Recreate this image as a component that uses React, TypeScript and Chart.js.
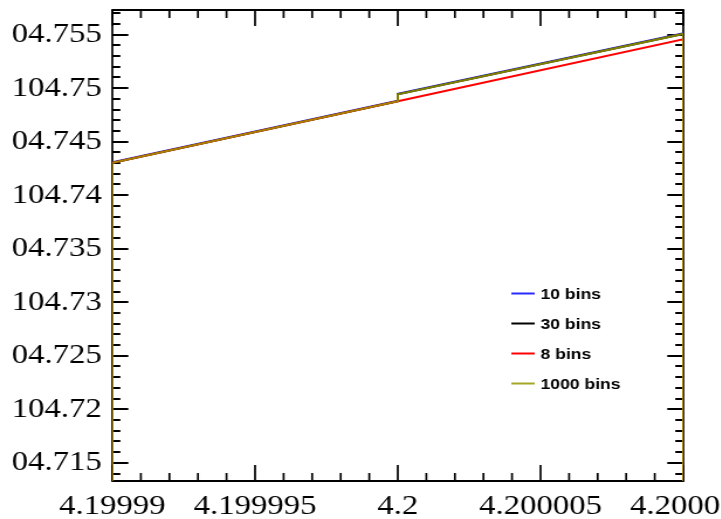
import React, { useEffect, useRef } from "react";
import { Chart, registerables } from "chart.js";

Chart.register(...registerables);

// Series names and colours (legend order)
const seriesLabels = ["10 bins", "30 bins", "8 bins", "1000 bins"];
const seriesColors = ["#2a2aff", "#000000", "#ff0000", "rgba(150,150,0,0.85)"];

// x positions of the step curves
const xWithStep = [4.19999, 4.19999, 4.2, 4.2, 4.20001, 4.20001];
const xNoStep = [4.19999, 4.19999, 4.2, 4.20001, 4.20001];

// y values of each curve
const bins10 = [104.7, 104.74308, 104.74883, 104.74948, 104.75512, 104.7];
const bins30 = [104.7, 104.74303, 104.74878, 104.74943, 104.75507, 104.7];
const bins8 = [104.7, 104.74303, 104.74878, 104.75457, 104.7];
const bins1000 = [104.7, 104.74303, 104.74878, 104.74943, 104.75507, 104.7];

// Axis ranges and tick marks
const xRange = [4.19999, 4.20001];
const yRange = [104.7133, 104.7573];
const xTickValues = [4.19999, 4.199995, 4.2, 4.200005, 4.20001];
const yTickValues = [104.715, 104.72, 104.725, 104.73, 104.735, 104.74, 104.745, 104.75, 104.755];
const xMinorStep = 0.000001;
const yMinorStep = 0.001;

// The canvas is drawn narrow and widened with a horizontal scale
const STRETCH = 1.17;

const toPoints = (xs: number[], ys: number[]) => ys.map((y, i) => ({ x: xs[i], y }));
const fmt = (v: number) => String(Number(Number(v).toFixed(7)));

const tickFont = { family: '"Liberation Serif", "Times New Roman", serif', size: 28 };

// Frame with inward major/minor ticks on all four sides
const framePlugin = {
  id: "frameTicks",
  beforeDatasetsDraw(chart: any) {
    const { ctx, chartArea: a, scales } = chart;
    const vw = 2 / STRETCH;
    ctx.save();
    ctx.strokeStyle = "#000";
    ctx.lineCap = "butt";

    // horizontal frame edges
    ctx.lineWidth = 2;
    ctx.beginPath();
    ctx.moveTo(a.left - vw / 2, a.top);
    ctx.lineTo(a.right + vw / 2, a.top);
    ctx.moveTo(a.left - vw / 2, a.bottom);
    ctx.lineTo(a.right + vw / 2, a.bottom);
    ctx.stroke();

    // vertical frame edges
    ctx.lineWidth = vw;
    ctx.beginPath();
    ctx.moveTo(a.left, a.top);
    ctx.lineTo(a.left, a.bottom);
    ctx.moveTo(a.right, a.top);
    ctx.lineTo(a.right, a.bottom);
    ctx.stroke();

    // x ticks (bottom and top)
    const xs = scales.x;
    const k0 = Math.ceil(xRange[0] / xMinorStep - 1e-6);
    const k1 = Math.floor(xRange[1] / xMinorStep + 1e-6);
    ctx.lineWidth = vw;
    for (let k = k0; k <= k1; k++) {
      const len = k % 5 === 0 ? 16 : 8;
      const px = xs.getPixelForValue(k * xMinorStep);
      ctx.beginPath();
      ctx.moveTo(px, a.bottom);
      ctx.lineTo(px, a.bottom - len);
      ctx.moveTo(px, a.top);
      ctx.lineTo(px, a.top + len);
      ctx.stroke();
    }

    // y ticks (left and right)
    const ys = scales.y;
    const j0 = Math.ceil(yRange[0] / yMinorStep - 1e-6);
    const j1 = Math.floor(yRange[1] / yMinorStep + 1e-6);
    ctx.lineWidth = 2;
    for (let j = j0; j <= j1; j++) {
      const len = (j % 5 === 0 ? 16 : 8) / STRETCH;
      const py = Math.round(ys.getPixelForValue(j * yMinorStep));
      ctx.beginPath();
      ctx.moveTo(a.left, py);
      ctx.lineTo(a.left + len, py);
      ctx.moveTo(a.right, py);
      ctx.lineTo(a.right - len, py);
      ctx.stroke();
    }
    ctx.restore();
  },
};

// Legend drawn inside the plot area
const legendPlugin = {
  id: "innerLegend",
  afterDraw(chart: any) {
    const { ctx, chartArea: a } = chart;
    ctx.save();
    ctx.font = 'bold 15px "Liberation Sans", Arial, sans-serif';
    ctx.textBaseline = "middle";
    ctx.textAlign = "left";
    chart.data.datasets.forEach((ds: any, i: number) => {
      const y = Math.round(a.top + 283 + i * 30) + 0.5;
      ctx.strokeStyle = ds.borderColor;
      ctx.lineWidth = 2;
      ctx.beginPath();
      ctx.moveTo(a.left + 341, y);
      ctx.lineTo(a.left + 361, y);
      ctx.stroke();
      ctx.fillStyle = "#000";
      ctx.fillText(ds.label, a.left + 366, y + 1);
    });
    ctx.restore();
  },
};

export default function App() {
  const canvasRef = useRef<HTMLCanvasElement | null>(null);

  useEffect(() => {
    const canvas = canvasRef.current;
    if (!canvas) return;
    const seriesData = [
      toPoints(xWithStep, bins10),
      toPoints(xWithStep, bins30),
      toPoints(xNoStep, bins8),
      toPoints(xWithStep, bins1000),
    ];
    const chart = new Chart(canvas, {
      type: "line",
      data: {
        datasets: seriesLabels.map((label, i) => ({
          label,
          data: seriesData[i],
          borderColor: seriesColors[i],
          backgroundColor: seriesColors[i],
          borderWidth: 2,
          pointRadius: 0,
          tension: 0,
          fill: false,
          order: seriesLabels.length - i,
        })),
      },
      options: {
        animation: false,
        responsive: false,
        devicePixelRatio: 1,
        layout: { padding: { top: 10, right: 96, bottom: 0, left: 0 } },
        plugins: { legend: { display: false }, tooltip: { enabled: false } },
        scales: {
          x: {
            type: "linear",
            min: xRange[0],
            max: xRange[1],
            grid: { display: false, drawTicks: false },
            border: { display: false },
            ticks: {
              padding: 9,
              maxRotation: 0,
              minRotation: 0,
              autoSkip: false,
              color: "#000",
              font: tickFont,
              callback: (v: any) => fmt(v),
            },
            afterBuildTicks: (s: any) => {
              s.ticks = xTickValues.map((value) => ({ value }));
            },
            afterFit: (s: any) => {
              s.height = 38;
              s.paddingLeft = 0;
              s.paddingRight = 0;
            },
          },
          y: {
            type: "linear",
            min: yRange[0],
            max: yRange[1],
            grid: { display: false, drawTicks: false },
            border: { display: false },
            ticks: {
              padding: 9,
              autoSkip: false,
              color: "#000",
              font: tickFont,
              callback: (v: any) => fmt(v),
            },
            afterBuildTicks: (s: any) => {
              s.ticks = yTickValues.map((value) => ({ value }));
            },
            afterFit: (s: any) => {
              s.width = 96;
              s.paddingTop = 0;
              s.paddingBottom = 0;
            },
          },
        },
      },
      plugins: [framePlugin, legendPlugin],
    });
    return () => chart.destroy();
  }, []);

  return (
    <div
      style={{
        position: "fixed",
        left: 11,
        top: 0,
        width: 710,
        height: 519,
        overflow: "hidden",
        background: "#fff",
      }}
    >
      <canvas
        ref={canvasRef}
        width={680}
        height={519}
        style={{
          position: "absolute",
          left: -11,
          top: 0,
          transform: `scaleX(${STRETCH})`,
          transformOrigin: "0 0",
        }}
      />
    </div>
  );
}
